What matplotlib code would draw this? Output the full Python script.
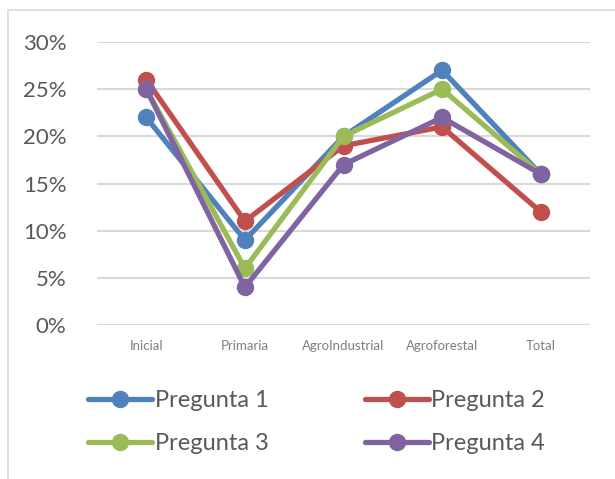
import numpy as np
import matplotlib.pyplot as plt
from matplotlib.patches import Rectangle

categories = ['Inicial', 'Primaria', 'AgroIndustrial', 'Agroforestal', 'Total']
pregunta1 = [0.22, 0.09, 0.20, 0.27, 0.16]
pregunta2 = [0.26, 0.11, 0.19, 0.21, 0.12]
pregunta3 = [0.25, 0.06, 0.20, 0.25, 0.16]
pregunta4 = [0.25, 0.04, 0.17, 0.22, 0.16]
series_names = ['Pregunta 1', 'Pregunta 2', 'Pregunta 3', 'Pregunta 4']
colors = ['#4F81BD', '#C0504D', '#9BBB59', '#8064A2']

plt.rcParams['font.family'] = ['Lato', 'DejaVu Sans']

fig = plt.figure(figsize=(6.15, 4.79), dpi=100)
# outer chart frame (only top/left visible in the original)
fig.patches.append(Rectangle((8 / 615, -0.1), 1.2, 1 - 10 / 479 + 0.1,
                             transform=fig.transFigure, fill=False,
                             edgecolor='#D9D9D9', linewidth=1.2))

ax = fig.add_axes([97 / 615, 1 - 325 / 479, 493 / 615, (325 - 42) / 479])
x = np.arange(len(categories))
data = [pregunta1, pregunta2, pregunta3, pregunta4]
lines = []
for vals, name, c in zip(data, series_names, colors):
    ln, = ax.plot(x, vals, color=c, linewidth=3.8, marker='o', markersize=11.5,
                  label=name, solid_capstyle='round')
    lines.append(ln)

ax.set_xlim(-0.5, len(categories) - 0.5)
ax.set_ylim(0, 0.30)
ax.set_yticks(np.arange(0, 0.31, 0.05))
ax.set_yticklabels([f'{int(round(v * 100))}%' for v in np.arange(0, 0.31, 0.05)])
ax.set_xticks(x)
ax.set_xticklabels(categories)
ax.tick_params(axis='y', labelsize=16, colors='#595959', length=0, pad=22)
ax.tick_params(axis='x', labelsize=9.5, colors='#7F7F7F', length=0, pad=11)
ax.grid(axis='y', color='#D9D9D9', linewidth=1.5)
ax.set_axisbelow(True)
for s in ax.spines.values():
    s.set_visible(False)

# row-major order like Excel: P1 P2 / P3 P4
order = [0, 2, 1, 3]
fig.legend([lines[i] for i in order], [series_names[i] for i in order],
           loc='center', bbox_to_anchor=(0.515, 1 - 422 / 479), ncol=2,
           frameon=False, fontsize=17, handlelength=2.7, handletextpad=0.1,
           columnspacing=4.1, labelspacing=0.95, labelcolor='#595959')

fig.savefig('out.png', dpi=100)
